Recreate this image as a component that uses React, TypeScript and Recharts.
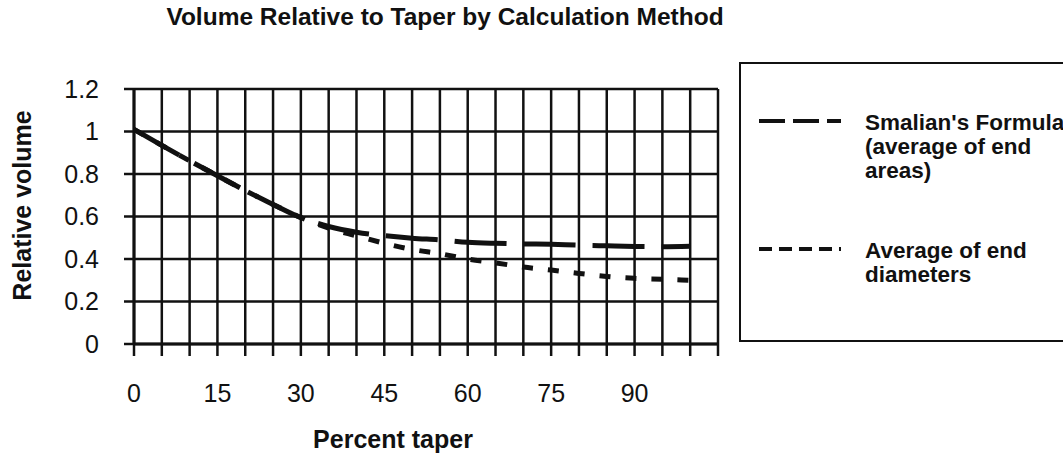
import { LineChart, Line, XAxis, YAxis, CartesianGrid, Legend } from "recharts";

// percent taper (x) and relative volume for each calculation method
const taper = [0, 5, 10, 15, 20, 25, 30, 35, 40, 45, 50, 55, 60, 65, 70, 75, 80, 85, 90, 95, 100];
const smalian = [1.01, 0.935, 0.862, 0.792, 0.722, 0.657, 0.595, 0.553, 0.526, 0.51, 0.498, 0.49, 0.479, 0.474, 0.471, 0.469, 0.465, 0.462, 0.459, 0.458, 0.46];
const endDiameters = [1.01, 0.935, 0.862, 0.792, 0.722, 0.657, 0.595, 0.545, 0.509, 0.474, 0.445, 0.425, 0.4, 0.382, 0.362, 0.348, 0.332, 0.318, 0.309, 0.305, 0.3];

const xTicks = [0, 5, 10, 15, 20, 25, 30, 35, 40, 45, 50, 55, 60, 65, 70, 75, 80, 85, 90, 95, 100, 105];
const xLabels = [0, 15, 30, 45, 60, 75, 90];
const yTicks = [0, 0.2, 0.4, 0.6, 0.8, 1, 1.2];

const smalianName = "Smalian's Formula\n(average of end\nareas)";
const diametersName = "Average of end\ndiameters";

const data = taper.map((t, i) => ({ taper: t, smalian: smalian[i], diameters: endDiameters[i] }));

const FONT = '"Liberation Sans", Arial, sans-serif';
const INK = "#111";

const legendOrder = ["smalian", "diameters"];
const legendSamples: Record<string, string> = {
  smalian: "26 8",
  diameters: "13 7",
};

function LegendBox({ payload }: any) {
  const items = [...(payload || [])].sort(
    (a: any, b: any) => legendOrder.indexOf(a.dataKey) - legendOrder.indexOf(b.dataKey)
  );
  return (
    <div
      style={{
        boxSizing: "border-box",
        width: 340,
        height: 280,
        border: `2px solid ${INK}`,
        position: "relative",
        fontFamily: FONT,
        fontWeight: "bold",
        fontSize: 22.5,
        lineHeight: "24px",
        color: INK,
      }}
    >
      {items.map((entry: any, i: number) => {
        const top = i === 0 ? 47 : 175;
        return (
          <div key={entry.dataKey} style={{ position: "absolute", left: 0, top, width: "100%" }}>
            <svg width={84} height={10} style={{ position: "absolute", left: 18, top: 5 }}>
              <line x1={0} y1={5} x2={82} y2={5} stroke={INK} strokeWidth={4} strokeDasharray={legendSamples[entry.dataKey]} />
            </svg>
            <div style={{ position: "absolute", left: 124, top: 0, whiteSpace: "pre-line" }}>{entry.value}</div>
          </div>
        );
      })}
    </div>
  );
}

export default function App() {
  return (
    <div style={{ position: "absolute", left: 0, top: 0, width: 1063, height: 458, overflow: "hidden", background: "#fff" }}>
      <div
        style={{
          position: "absolute",
          left: 0,
          width: 890,
          top: 5,
          textAlign: "center",
          fontFamily: FONT,
          fontWeight: "bold",
          fontSize: 24.5,
          lineHeight: "24px",
          color: INK,
        }}
      >
        Volume Relative to Taper by Calculation Method
      </div>
      <LineChart width={1063} height={458} data={data} margin={{ top: 89, right: 345, left: 0, bottom: 54 }}>
        <CartesianGrid stroke={INK} strokeWidth={2.5} />
        <XAxis
          dataKey="taper"
          type="number"
          domain={[0, 105]}
          ticks={xTicks}
          interval={0}
          height={60}
          tickFormatter={(v: number) => (xLabels.includes(v) ? String(v) : "")}
          tick={{ fontSize: 25, fill: INK, fontFamily: FONT }}
          tickSize={12}
          tickMargin={28}
          tickLine={{ stroke: INK, strokeWidth: 2.5 }}
          axisLine={{ stroke: INK, strokeWidth: 3 }}
          label={{
            content: ({ viewBox }: any) => (
              <text
                x={viewBox.x + viewBox.width / 2 - 33}
                y={viewBox.y + 104}
                textAnchor="middle"
                fontFamily={FONT}
                fontWeight="bold"
                fontSize={25}
                fill={INK}
              >
                Percent taper
              </text>
            ),
          }}
        />
        <YAxis
          type="number"
          domain={[0, 1.2]}
          ticks={yTicks}
          width={134}
          tickFormatter={(v: number) => String(v)}
          tick={{ fontSize: 25, fill: INK, fontFamily: FONT }}
          tickSize={10}
          tickMargin={25}
          tickLine={{ stroke: INK, strokeWidth: 2.5 }}
          axisLine={{ stroke: INK, strokeWidth: 3 }}
          label={{
            content: ({ viewBox }: any) => {
              const cx = viewBox.x + 22;
              const cy = viewBox.y + viewBox.height / 2 - 11;
              return (
                <text
                  x={cx}
                  y={cy}
                  transform={`rotate(-90 ${cx} ${cy})`}
                  textAnchor="middle"
                  dominantBaseline="central"
                  fontFamily={FONT}
                  fontWeight="bold"
                  fontSize={25}
                  fill={INK}
                >
                  Relative volume
                </text>
              );
            },
          }}
        />
        <Legend
          layout="horizontal"
          verticalAlign="middle"
          align="center"
          content={<LegendBox />}
          wrapperStyle={{ left: 739, top: 62, width: 340, height: 280 }}
        />
        <Line
          type="monotone"
          dataKey="smalian"
          name={smalianName}
          stroke={INK}
          strokeWidth={5}
          strokeDasharray="52 17"
          dot={false}
          activeDot={false}
          isAnimationActive={false}
        />
        <Line
          type="monotone"
          dataKey="diameters"
          name={diametersName}
          stroke={INK}
          strokeWidth={5}
          strokeDasharray="11 15"
          dot={false}
          activeDot={false}
          isAnimationActive={false}
        />
      </LineChart>
    </div>
  );
}
